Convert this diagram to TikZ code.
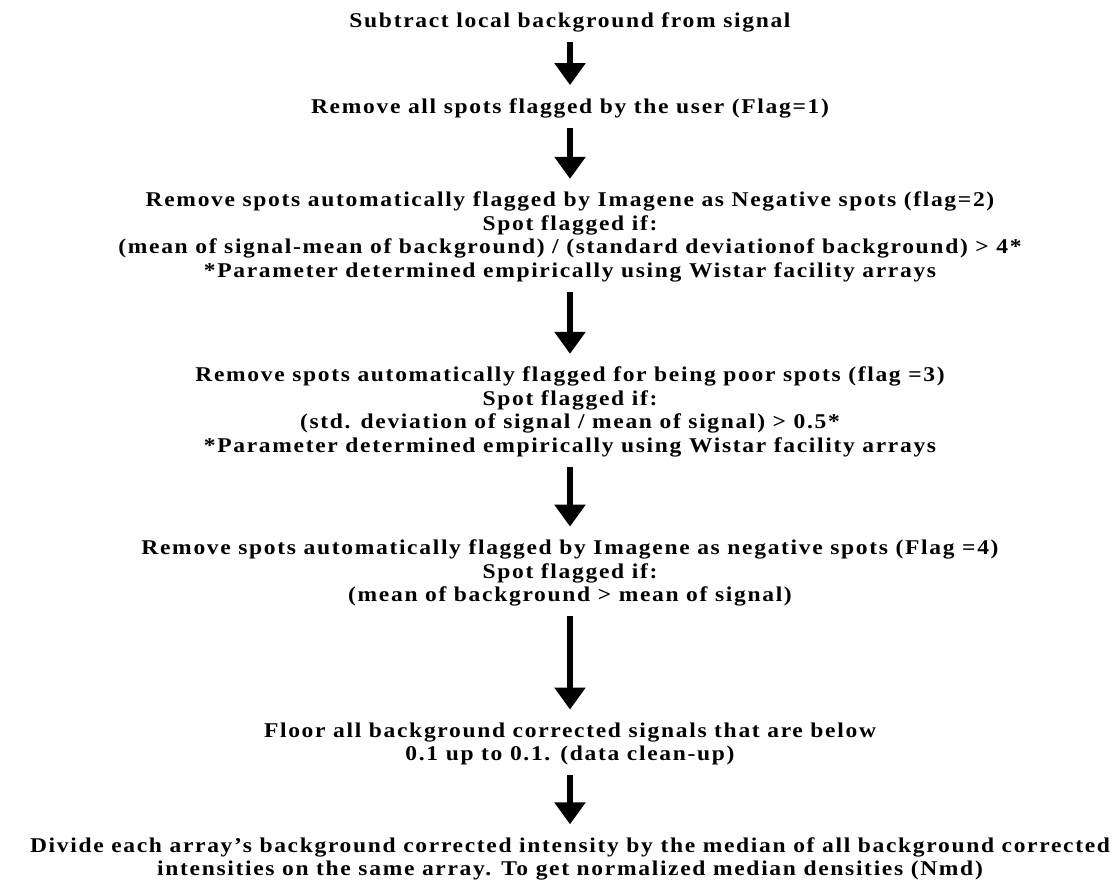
\documentclass[tikz,border=0pt]{standalone}
\usepackage{fontspec}
\setmainfont{Liberation Serif}[FakeStretch=1.12,LetterSpace=8]
\usetikzlibrary{arrows.meta}
\begin{document}
\begin{tikzpicture}[x=1pt,y=-1pt]
				\tikzstyle{txt}=[inner sep=0pt,align=center,font=\fontsize{21}{23.5}\selectfont\bfseries]
				\tikzstyle{arr}=[line width=6pt,-{Triangle[width=30pt,length=22pt]},shorten <=10pt,shorten >=13pt]
				\useasboundingbox (0,0) rectangle (1120,884);
				\draw 
				node[txt](A)at(570,22){Subtract local background from signal}
				node[txt](B)at(570,108){Remove all spots flagged by the user (Flag=1)}
				node[txt](C)at(570,237){Remove spots automatically flagged by Imagene as Negative spots (flag=2)\\
					Spot flagged if:\\
					(mean of signal-mean of background) / (standard deviationof background) > 4*\\
					*Parameter determined empirically using Wistar facility arrays}
				node[txt](D)at(570,412){Remove spots automatically flagged for being poor spots (flag =3)\\
					Spot flagged if:\\
					(std. deviation of signal / mean of signal)  > 0.5*\\
					*Parameter determined empirically using Wistar facility arrays}
				node[txt](E)at(570,573){Remove spots automatically flagged by Imagene as negative spots (Flag =4)\\
					Spot flagged if:\\
					(mean of background > mean of signal)}
				node[txt](F)at(570,744){Floor all background corrected signals that are below\\
					0.1 up to 0.1. (data clean-up)}
				node[txt](G)at(570,859){Divide each array’s background corrected intensity by the median of all background corrected\\
					intensities on the same array. To get normalized median densities (Nmd)};
				
				\draw[arr](A)--(B);
				\draw[arr](B)--(C);
				\draw[arr](C)--(D);
				\draw[arr](D)--(E);
				\draw[arr](E)--(F);%long one
				\draw[arr](F)--(G);
\end{tikzpicture}
\end{document}
